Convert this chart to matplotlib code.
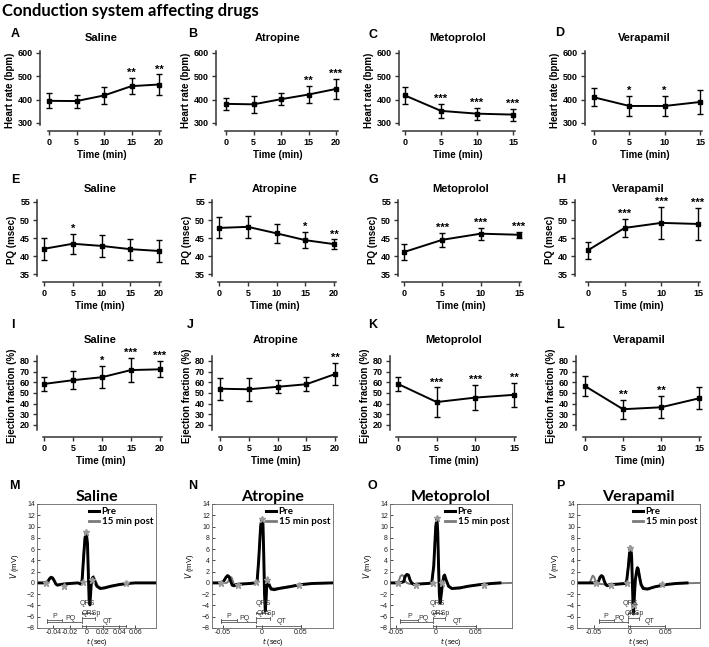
import matplotlib.pyplot as plt
from matplotlib.lines import Line2D

plt.rcParams['font.family'] = ['Liberation Sans', 'DejaVu Sans']

# time points (min)
time_20 = [0, 5, 10, 15, 20]
time_15 = [0, 5, 10, 15]

# heart rate (bpm)
hr_saline = [395, 394, 418, 458, 465]
hr_saline_err = [32, 28, 35, 35, 43]
hr_saline_sig = ['', '', '', '**', '**']
hr_atropine = [382, 380, 402, 422, 446]
hr_atropine_err = [25, 35, 25, 36, 42]
hr_atropine_sig = ['', '', '', '**', '***']
hr_metoprolol = [418, 352, 340, 336]
hr_metoprolol_err = [35, 30, 26, 26]
hr_metoprolol_sig = ['', '***', '***', '***']
hr_verapamil = [410, 373, 373, 390]
hr_verapamil_err = [38, 43, 43, 52]
hr_verapamil_sig = ['', '*', '*', '']

# PQ interval (msec)
pq_saline = [42.0, 43.4, 42.8, 41.9, 41.4]
pq_saline_err = [3.1, 2.8, 3.1, 2.9, 3.0]
pq_saline_sig = ['', '*', '', '', '']
pq_atropine = [47.8, 48.1, 46.3, 44.4, 43.3]
pq_atropine_err = [2.9, 3.1, 2.6, 2.2, 1.3]
pq_atropine_sig = ['', '', '', '*', '**']
pq_metoprolol = [41.1, 44.5, 46.2, 45.9]
pq_metoprolol_err = [2.2, 2.0, 1.7, 0.8]
pq_metoprolol_sig = ['', '***', '***', '***']
pq_verapamil = [41.6, 47.8, 49.2, 48.9]
pq_verapamil_err = [2.4, 2.6, 4.5, 4.4]
pq_verapamil_sig = ['', '***', '***', '***']

# ejection fraction (%)
ef_saline = [58.5, 62.0, 64.8, 71.5, 72.2]
ef_saline_err = [6.2, 8.7, 10.5, 11.3, 7.5]
ef_saline_sig = ['', '', '*', '***', '***']
ef_atropine = [54.0, 53.5, 55.8, 58.2, 67.7]
ef_atropine_err = [10.5, 11.0, 6.2, 6.5, 10.5]
ef_atropine_sig = ['', '', '', '', '**']
ef_metoprolol = [58.5, 41.5, 45.7, 48.3]
ef_metoprolol_err = [6.5, 13.8, 11.8, 11.3]
ef_metoprolol_sig = ['', '***', '***', '**']
ef_verapamil = [56.5, 34.8, 36.6, 45.0]
ef_verapamil_err = [9.2, 8.8, 10.4, 10.2]
ef_verapamil_sig = ['', '**', '**', '']

# ECG averaged beats (t in sec, V in mV)
ecg_sal_pre_t = [-0.060, -0.050, -0.047, -0.045, -0.043, -0.041, -0.039, -0.037, -0.035, -0.032, -0.028, -0.020,
                 -0.010, -0.007, -0.005, -0.003, -0.0015, 0.000, 0.0015, 0.0025, 0.0035, 0.0045, 0.0055, 0.0065,
                 0.008, 0.010, 0.013, 0.017, 0.022, 0.030, 0.040, 0.050, 0.060, 0.085]
ecg_sal_pre_v = [0.0, 0.0, 0.2, 0.7, 1.0, 0.9, 0.4, -0.2, -0.4, -0.3, -0.2, -0.1,
                 0.0, -0.2, 0.5, 5.0, 8.0, 9.0, 7.0, 2.0, -3.0, -3.9, -1.5, 0.5,
                 1.0, 0.4, -0.6, -1.0, -0.9, -0.6, -0.3, -0.1, 0.0, 0.0]
ecg_sal_post_t = [-0.060, -0.050, -0.047, -0.045, -0.043, -0.041, -0.039, -0.037, -0.035, -0.032, -0.028, -0.020,
                  -0.010, -0.007, -0.005, -0.003, -0.0015, 0.000, 0.0015, 0.0025, 0.0035, 0.0045, 0.0055, 0.0065,
                  0.009, 0.011, 0.014, 0.018, 0.022, 0.030, 0.040, 0.050, 0.060, 0.085]
ecg_sal_post_v = [0.0, 0.0, 0.2, 0.6, 0.8, 0.7, 0.3, -0.2, -0.3, -0.3, -0.2, -0.1,
                  0.0, -0.1, 0.6, 5.5, 8.3, 8.8, 6.5, 1.5, -2.5, -3.0, -1.0, 0.6,
                  1.2, 0.5, -0.5, -0.9, -0.8, -0.5, -0.3, -0.1, 0.0, 0.0]
ecg_sal_mk_t = [-0.049, -0.027, -0.004, 0.000, 0.007, 0.048]
ecg_sal_mk_v = [0.0, -0.5, 0.2, 9.0, 0.5, 0.0]
ecg_sal_iv = [-0.048, -0.029, -0.005, 0.008, 0.049]

ecg_atr_pre_t = [-0.065, -0.052, -0.049, -0.046, -0.044, -0.042, -0.040, -0.038, -0.036, -0.033, -0.028, -0.015,
                 -0.009, -0.006, -0.004, -0.0015, 0.000, 0.0015, 0.0025, 0.0035, 0.0045, 0.0055, 0.0065, 0.0075,
                 0.009, 0.012, 0.016, 0.022, 0.035, 0.050, 0.065, 0.090]
ecg_atr_pre_v = [0.0, 0.0, 0.3, 1.0, 1.3, 1.1, 0.3, -0.4, -0.5, -0.3, -0.2, -0.1,
                 0.0, 0.3, 4.0, 10.0, 11.3, 10.5, 5.0, -2.0, -5.0, -3.0, 0.0, 0.5,
                 -0.3, -1.1, -1.2, -1.0, -0.7, -0.3, -0.1, 0.0]
ecg_atr_post_t = [-0.065, -0.045, -0.043, -0.041, -0.039, -0.037, -0.035, -0.032, -0.028, -0.015,
                  -0.009, -0.006, -0.004, -0.0015, 0.000, 0.0015, 0.0025, 0.0035, 0.005, 0.006, 0.0075,
                  0.0095, 0.012, 0.016, 0.022, 0.035, 0.050, 0.065, 0.090]
ecg_atr_post_v = [0.0, 0.0, 0.3, 0.9, 1.0, 0.3, -0.6, -0.5, -0.3, -0.1,
                  0.0, 0.3, 4.5, 10.5, 11.5, 10.0, 4.5, -1.0, -3.0, -1.0, 1.0,
                  0.0, -0.9, -1.0, -0.9, -0.6, -0.3, -0.1, 0.0]
ecg_atr_mk_t = [-0.052, -0.030, -0.008, 0.000, 0.007, 0.048]
ecg_atr_mk_v = [0.0, -0.3, 0.2, 11.3, 0.5, -0.3]
ecg_atr_iv = [-0.052, -0.032, -0.008, 0.008, 0.050]

ecg_met_pre_t = [-0.060, -0.045, -0.040, -0.038, -0.036, -0.034, -0.032, -0.030, -0.027, -0.022, -0.010,
                 -0.005, -0.0025, 0.000, 0.0015, 0.0025, 0.0035, 0.0045, 0.0055, 0.0065, 0.0085, 0.010, 0.011,
                 0.013, 0.016, 0.020, 0.030, 0.040, 0.055, 0.070, 0.080]
ecg_met_pre_v = [0.0, 0.0, 0.2, 1.2, 1.5, 1.4, 0.5, 0.0, -0.3, -0.2, -0.1,
                 0.0, 3.0, 10.0, 11.5, 9.0, 3.0, -2.0, -3.6, -2.5, 0.0, 1.2, 1.4,
                 0.5, -0.6, -1.0, -0.9, -0.6, -0.3, -0.1, 0.0]
ecg_met_post_t = [-0.060, -0.048, -0.046, -0.044, -0.042, -0.040, -0.038, -0.036, -0.032, -0.022, -0.010,
                  -0.005, -0.0025, 0.000, 0.0015, 0.0025, 0.0035, 0.0045, 0.0055, 0.0065, 0.0085, 0.010, 0.011,
                  0.013, 0.016, 0.020, 0.030, 0.040, 0.055, 0.070, 0.095]
ecg_met_post_v = [0.0, 0.0, 0.4, 1.2, 1.4, 1.2, 0.3, 0.0, -0.2, -0.2, -0.1,
                  0.0, 3.2, 10.2, 11.2, 8.5, 2.5, -1.8, -3.3, -2.2, 0.2, 1.2, 1.3,
                  0.4, -0.5, -0.9, -0.8, -0.6, -0.3, -0.1, 0.0]
ecg_met_mk_t = [-0.047, -0.025, -0.004, 0.001, 0.008, 0.060]
ecg_met_mk_v = [0.0, -0.4, 0.0, 11.5, 0.0, -0.3]
ecg_met_iv = [-0.044, -0.022, -0.004, 0.008, 0.050]

ecg_ver_pre_t = [-0.073, -0.046, -0.043, -0.041, -0.039, -0.037, -0.035, -0.033, -0.031, -0.027, -0.015,
                 -0.006, -0.004, -0.0015, 0.0005, 0.002, 0.003, 0.004, 0.005, 0.0055, 0.0065, 0.008, 0.010,
                 0.011, 0.012, 0.014, 0.016, 0.019, 0.025, 0.035, 0.050, 0.065, 0.080]
ecg_ver_pre_v = [0.0, 0.0, 0.3, 1.0, 1.3, 1.1, 0.3, -0.3, -0.5, -0.3, -0.2,
                 -0.1, 0.3, 3.0, 6.0, 6.2, 4.5, 0.0, -4.5, -5.5, -3.0, 0.5, 2.2,
                 2.7, 2.5, 1.0, -0.3, -1.0, -1.1, -0.7, -0.3, -0.1, 0.0]
ecg_ver_post_t = [-0.073, -0.056, -0.054, -0.052, -0.051, -0.049, -0.047, -0.045, -0.040, -0.030, -0.015,
                  -0.006, -0.004, -0.0015, 0.0005, 0.002, 0.003, 0.004, 0.005, 0.006, 0.007, 0.009, 0.011,
                  0.012, 0.014, 0.016, 0.019, 0.025, 0.035, 0.050, 0.065, 0.098]
ecg_ver_post_v = [0.0, 0.0, 0.4, 1.1, 1.3, 1.0, 0.2, -0.1, -0.2, -0.3, -0.2,
                  -0.1, 0.3, 3.5, 6.5, 6.3, 4.0, 0.0, -3.0, -4.0, -2.0, 1.0, 2.5,
                  2.6, 1.2, 0.0, -0.8, -1.0, -0.7, -0.3, -0.1, 0.0]
ecg_ver_mk_t = [-0.047, -0.026, -0.004, 0.001, 0.006, 0.045]
ecg_ver_mk_v = [0.0, -0.3, 0.0, 6.2, -4.0, -0.2]
ecg_ver_iv = [-0.043, -0.022, -0.002, 0.010, 0.050]

W, H = 709, 647
fig = plt.figure(figsize=(W / 100, H / 100), dpi=100)


def add_px(l, t, r, b):
    # axes placed by pixel edges
    return fig.add_axes([l / W, 1 - b / H, (r - l) / W, (b - t) / H])


# rows: tick pixel rows, x-axis line, axes top, tick values, spine bounds, title pad
rows = {
    'hr': (53, 123, 131, 49, 600, 300, [300, 400, 500, 600], (292, 608), 'Heart rate (bpm)', 6),
    'pq': (202, 274, 282, 198, 55, 35, [35, 40, 45, 50, 55], (34.4, 55.5), 'PQ (msec)', 4),
    'ef': (361, 425, 437, 354, 80, 20, [20, 30, 40, 50, 60, 70, 80], (15, 85), 'Ejection fraction (%)', 8),
}


def trend_panel(x, y, err, sig, row, spine_x, x0_px, xend_px, title, letter, letter_xy):
    ytop_px, ybot_px, xaxis_px, top_px, ytop_v, ybot_v, yticks, ybounds, ylabel, pad = rows[row]
    xmax = x[-1]
    sx = (xend_px - x0_px) / xmax
    sy = (ybot_px - ytop_px) / (ytop_v - ybot_v)
    right_px = xend_px + 4
    ax = add_px(spine_x, top_px, right_px, xaxis_px)
    ax.set_xlim(-(x0_px - spine_x) / sx, xmax + (right_px - xend_px) / sx)
    ax.set_ylim(ybot_v - (xaxis_px - ybot_px) / sy, ytop_v + (ytop_px - top_px) / sy)
    ax.errorbar(x, y, yerr=err, fmt='-s', color='black', ms=3, lw=1.4,
                elinewidth=1, capsize=2.3, capthick=1)
    for xi, yi, ei, s in zip(x, y, err, sig):
        if s:
            ax.annotate(s, (xi, yi + ei), xytext=(0, 0), textcoords='offset points',
                        ha='center', va='bottom', fontsize=8, fontweight='bold')
    for side in ['top', 'right']:
        ax.spines[side].set_visible(False)
    for side in ['left', 'bottom']:
        ax.spines[side].set_color('#333333')
        ax.spines[side].set_linewidth(1.1)
    ax.spines['left'].set_bounds(*ybounds)
    ax.spines['bottom'].set_bounds(-0.25, xmax + 0.3)
    ax.set_xticks(x)
    ax.set_yticks(yticks)
    ax.tick_params(length=3, width=1, color='#333333', labelsize=6.5, pad=2)
    for lab in ax.get_xticklabels() + ax.get_yticklabels():
        lab.set_fontweight('bold')
    ax.set_xlabel('Time (min)', fontsize=7, fontweight='bold', labelpad=2)
    ax.set_ylabel(ylabel, fontsize=7, fontweight='bold', labelpad=2)
    ax.set_title(title, fontsize=8, fontweight='bold', pad=pad)
    fig.text(letter_xy[0] / W, 1 - letter_xy[1] / H, letter, fontsize=9, fontweight='bold',
             ha='center', va='center')


trend_panel(time_20, hr_saline, hr_saline_err, hr_saline_sig, 'hr', 40, 49, 159, 'Saline', 'A', (15, 34))
trend_panel(time_20, hr_atropine, hr_atropine_err, hr_atropine_sig, 'hr', 216, 226, 336, 'Atropine', 'B', (193, 34))
trend_panel(time_15, hr_metoprolol, hr_metoprolol_err, hr_metoprolol_sig, 'hr', 399, 405, 513, 'Metoprolol', 'C', (373, 35))
trend_panel(time_15, hr_verapamil, hr_verapamil_err, hr_verapamil_sig, 'hr', 585, 594, 700, 'Verapamil', 'D', (560, 33))

trend_panel(time_20, pq_saline, pq_saline_err, pq_saline_sig, 'pq', 37, 44, 159, 'Saline', 'E', (15, 180))
trend_panel(time_20, pq_atropine, pq_atropine_err, pq_atropine_sig, 'pq', 212, 219, 334, 'Atropine', 'F', (192, 180))
trend_panel(time_15, pq_metoprolol, pq_metoprolol_err, pq_metoprolol_sig, 'pq', 398, 404, 519, 'Metoprolol', 'G', (373, 180))
trend_panel(time_15, pq_verapamil, pq_verapamil_err, pq_verapamil_sig, 'pq', 575, 588, 698, 'Verapamil', 'H', (561, 180))

trend_panel(time_20, ef_saline, ef_saline_err, ef_saline_sig, 'ef', 37, 44, 160, 'Saline', 'I', (13, 325))
trend_panel(time_20, ef_atropine, ef_atropine_err, ef_atropine_sig, 'ef', 212, 220, 335, 'Atropine', 'J', (190, 325))
trend_panel(time_15, ef_metoprolol, ef_metoprolol_err, ef_metoprolol_sig, 'ef', 390, 398, 514, 'Metoprolol', 'K', (373, 325))
trend_panel(time_15, ef_verapamil, ef_verapamil_err, ef_verapamil_sig, 'ef', 576, 585, 699, 'Verapamil', 'L', (560, 325))


def ecg_panel(l, r, xlim, xticks, xticklabels, pre_t, pre_v, post_t, post_v, mk_t, mk_v, iv,
              title, letter, letter_xy):
    ax = add_px(l, 504, r, 628)
    ax.plot(post_t, post_v, color='#7a7a7a', lw=1.4)
    ax.plot(pre_t, pre_v, color='black', lw=2.1)
    ax.plot(mk_t, mk_v, ls='none', marker='*', color='#9a9a9a', ms=4.5)
    # interval brackets
    start, p_end, pq_end, qrs_end, qt_end = iv
    gc = '#555555'
    bars = [(start, p_end, -6.6), (start, pq_end, -7.0), (pq_end, qrs_end, -5.3),
            (pq_end, qrs_end + 0.003, -6.3), (pq_end, qt_end, -7.6)]
    for a, b, yy in bars:
        ax.plot([a, b], [yy, yy], color=gc, lw=0.6)
        ax.plot([a, a], [yy - 0.2, yy + 0.2], color=gc, lw=0.6)
        ax.plot([b, b], [yy - 0.2, yy + 0.2], color=gc, lw=0.6)
    lab = dict(fontsize=5, color='#333333', ha='center', va='bottom')
    ax.text((start + p_end) / 2, -6.5, 'P', **lab)
    ax.text((p_end + pq_end) / 2 - 0.002, -6.9, 'PQ', **lab)
    ax.text(0.0015, -4.25, 'QRS', **lab)
    ax.text(0.006, -6.1, 'QRSp', **lab)
    ax.text((pq_end + qt_end) / 2 + 0.004, -7.5, 'QT', **lab)
    ax.set_xlim(*xlim)
    ax.set_ylim(-8, 14)
    ax.set_yticks(range(-8, 15, 2))
    ax.set_xticks(xticks)
    ax.set_xticklabels(xticklabels)
    for sp in ax.spines.values():
        sp.set_color('#666666')
        sp.set_linewidth(0.6)
    ax.tick_params(direction='in', length=2, width=0.5, labelsize=5, labelcolor='#222222', pad=1.5)
    ax.tick_params(axis='x', pad=1)
    ax.set_xlabel('$t$ (sec)', fontsize=5, labelpad=0)
    ax.set_ylabel('$V$ (mV)', fontsize=5.5, labelpad=4)
    ax.set_title(title, fontsize=11.5, fontweight='bold', family='Lato', pad=1)
    handles = [Line2D([], [], color='black', lw=2.2), Line2D([], [], color='#7a7a7a', lw=2)]
    ax.legend(handles, ['Pre', '15 min post'], loc='upper right', frameon=False,
              prop={'family': 'Lato', 'weight': 'bold', 'size': 7}, handlelength=1.0,
              handletextpad=0.3, labelspacing=0.15, borderaxespad=0.1, borderpad=0.2)
    fig.text(letter_xy[0] / W, 1 - letter_xy[1] / H, letter, fontsize=9, fontweight='bold',
             ha='center', va='center')


ecg_panel(37, 156, (-0.06, 0.085), [-0.04, -0.02, 0, 0.02, 0.04, 0.06],
          ['-0.04', '-0.02', '0', '0.02', '0.04', '0.06'],
          ecg_sal_pre_t, ecg_sal_pre_v, ecg_sal_post_t, ecg_sal_post_v, ecg_sal_mk_t, ecg_sal_mk_v,
          ecg_sal_iv, 'Saline', 'M', (14, 486))
ecg_panel(212, 333, (-0.064, 0.0915), [-0.05, 0, 0.05], ['-0.05', '0', '0.05'],
          ecg_atr_pre_t, ecg_atr_pre_v, ecg_atr_post_t, ecg_atr_post_v, ecg_atr_mk_t, ecg_atr_mk_v,
          ecg_atr_iv, 'Atropine', 'N', (193, 486))
ecg_panel(390, 512, (-0.057, 0.095), [-0.05, 0, 0.05], ['-0.05', '0', '0.05'],
          ecg_met_pre_t, ecg_met_pre_v, ecg_met_post_t, ecg_met_post_v, ecg_met_mk_t, ecg_met_mk_v,
          ecg_met_iv, 'Metoprolol', 'O', (372, 486))
ecg_panel(577, 700, (-0.073, 0.098), [-0.05, 0, 0.05], ['-0.05', '0', '0.05'],
          ecg_ver_pre_t, ecg_ver_pre_v, ecg_ver_post_t, ecg_ver_post_v, ecg_ver_mk_t, ecg_ver_mk_v,
          ecg_ver_iv, 'Verapamil', 'P', (560, 486))

fig.text(2 / W, 1 - 16 / H, 'Conduction system affecting drugs', fontsize=12, fontweight='bold',
         family='Lato', va='baseline', ha='left')

fig.savefig('out.png', dpi=100)
